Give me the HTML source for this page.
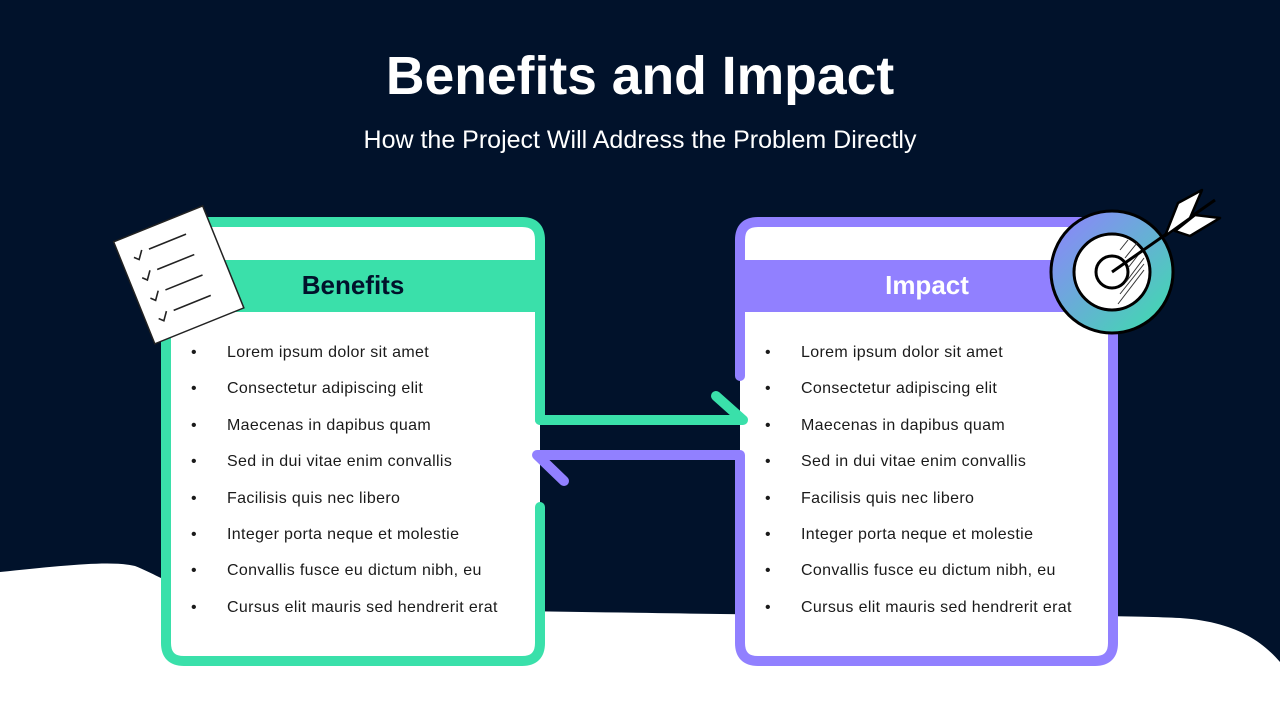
<!DOCTYPE html>
<html><head><meta charset="utf-8"><style>
html,body{margin:0;padding:0;}
body{width:1280px;height:720px;overflow:hidden;background:#01122b;position:relative;font-family:"Liberation Sans",sans-serif;}
svg{position:absolute;left:0;top:0;}
.t{position:absolute;left:0;width:1280px;text-align:center;color:#fff;}
.li{position:absolute;font-size:16px;letter-spacing:0.35px;color:#1a1a1a;white-space:nowrap;}
.h{position:absolute;font-size:26px;font-weight:bold;text-align:center;}
</style></head><body>
<svg width="1280" height="720" viewBox="0 0 1280 720">
<defs><linearGradient id="g" x1="0" y1="0" x2="1" y2="1"><stop offset="0" stop-color="#9180ff"/><stop offset="1" stop-color="#3ae0aa"/></linearGradient></defs>
<path d="M0,572 C60,566 110,560 135,566 C170,580 190,600 260,604 C400,610 600,612 720,614 C900,616 1100,614 1180,618 C1240,622 1265,645 1280,662 L1280,720 L0,720 Z" fill="#fff"/>
<rect x="166" y="222" width="374" height="439" rx="16" fill="#fff"/>
<rect x="740" y="222" width="373" height="439" rx="16" fill="#fff"/>
<rect x="540" y="425" width="200" height="25" fill="#01122b"/>
<rect x="170" y="260" width="370" height="52" fill="#3ae0aa"/>
<rect x="744" y="260" width="365" height="52" fill="#9180ff"/>
<g fill="none" stroke-width="10" stroke-linecap="round" stroke-linejoin="round">
<path d="M540,420 L540,240 Q540,222 522,222 L184,222 Q166,222 166,240 L166,643 Q166,661 184,661 L522,661 Q540,661 540,643 L540,507" stroke="#3ae0aa"/>
<path d="M540,420 L743,420 L716,396" stroke="#3ae0aa"/>
<path d="M740,376 L740,240 Q740,222 758,222 L1095,222 Q1113,222 1113,240 L1113,643 Q1113,661 1095,661 L758,661 Q740,661 740,643 L740,455 L537,455 L564,481" stroke="#9180ff"/>
</g>
<g transform="rotate(-22 178 273)">
<rect x="130" y="220" width="96" height="110" fill="#fff" stroke="#222" stroke-width="1.5"/>
<g stroke="#222" stroke-width="1.6" fill="none">
<path d="M143,242 l4,4 l6,-8 M160,240 h40"/><path d="M143,264 l4,4 l6,-8 M160,262 h40"/><path d="M143,286 l4,4 l6,-8 M160,284 h40"/><path d="M143,308 l4,4 l6,-8 M160,306 h40"/>
</g></g>
<circle cx="1112" cy="272" r="61" fill="url(#g)" stroke="#000" stroke-width="3"/>
<circle cx="1112" cy="272" r="38" fill="#fff" stroke="#000" stroke-width="3"/>
<circle cx="1112" cy="272" r="16" fill="#fff" stroke="#000" stroke-width="3"/>
<g stroke="#333" stroke-width="1"><path d="M1120,250 l8,-10 M1125,258 l12,-15 M1128,268 l14,-18 M1126,282 l18,-24 M1120,294 l24,-30 M1118,304 l26,-34"/></g>
<path d="M1112,272 L1215,200" stroke="#000" stroke-width="3"/>
<path d="M1165,236 L1178,203 L1202,190 L1190,218 Z M1175,231 L1195,215 L1220,218 L1190,236 Z" fill="#fff" stroke="#000" stroke-width="2.5" stroke-linejoin="round"/>
</svg>
<div class="t" style="top:46px;font-size:53.5px;font-weight:bold;">Benefits and Impact</div>
<div class="t" style="top:126px;font-size:25px;">How the Project Will Address the Problem Directly</div>
<div class="h" style="left:170px;width:366px;top:270px;color:#01122b;">Benefits</div>
<div class="h" style="left:744px;width:366px;top:270px;color:#fff;">Impact</div>
<div id="L"></div>
<script>
var items=["Lorem ipsum dolor sit amet","Consectetur adipiscing elit","Maecenas in dapibus quam","Sed in dui vitae enim convallis","Facilisis quis nec libero","Integer porta neque et molestie","Convallis fusce eu dictum nibh, eu","Cursus elit mauris sed hendrerit erat"];
var h="";
[[191,227],[765,801]].forEach(function(p){items.forEach(function(t,i){var y=344+i*36.4;h+='<div class="li" style="left:'+p[0]+'px;top:'+y+'px">•</div><div class="li" style="left:'+p[1]+'px;top:'+y+'px">'+t+'</div>';});});
document.getElementById("L").innerHTML=h;
</script>
</body></html>
